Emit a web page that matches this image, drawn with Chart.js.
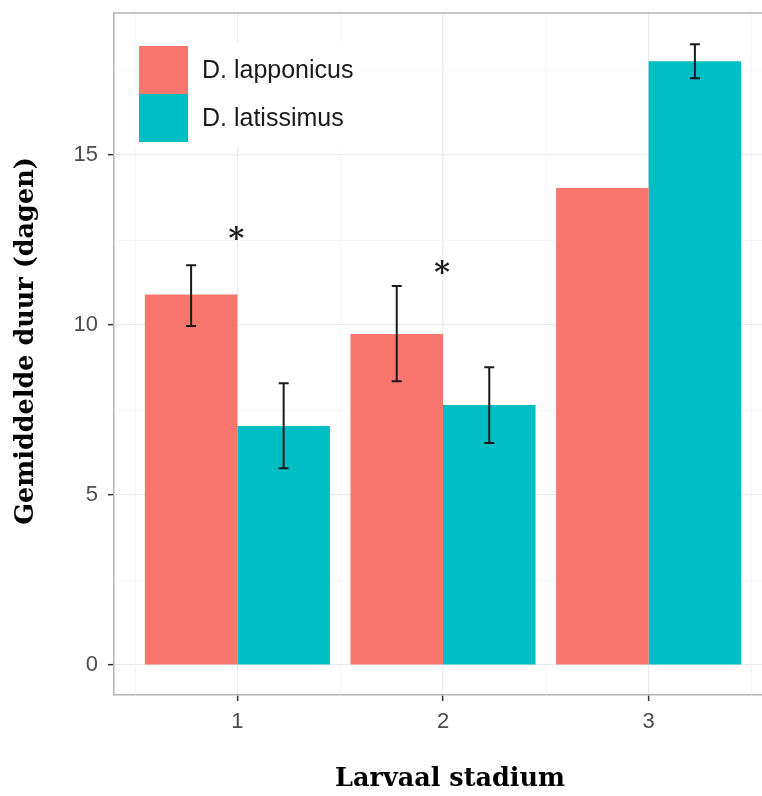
<!DOCTYPE html>
<html lang="nl">
<head>
  <meta charset="UTF-8">
  <title>Gemiddelde duur per larvaal stadium</title>
  <script src="https://cdn.jsdelivr.net/npm/chart.js"></script>
  <style>
    html, body {
      margin: 0;
      padding: 0;
      background: #fff;
      overflow: hidden;
    }
    #wrap {
      width: 790px;
      height: 796px;
    }
  </style>
</head>
<body>
  <div id="wrap"><canvas id="chart" width="790" height="796"></canvas></div>

  <script>
    // data
    const stages = [1, 2, 3];
    const seriesNames = ['D. lapponicus', 'D. latissimus'];
    const lapponicus = [10.9, 9.74, 14.03];
    const lapponicusLow = [9.97, 8.35, null];
    const lapponicusHigh = [11.76, 11.15, null];
    const latissimus = [7.03, 7.65, 17.76];
    const latissimusLow = [5.79, 6.53, 17.26];
    const latissimusHigh = [8.29, 8.76, 18.26];
    const starStages = [1, 2];
    const starValues = [12.7, 11.7];
    const xTicks = [1, 2, 3];
    const xMinor = [0.5, 1.5, 2.5, 3.5];
    const yTicks = [0, 5, 10, 15];
    const yMinor = [2.5, 7.5, 12.5, 17.5];

    const colors = ['#F8766D', '#00BFC4'];
    const lows = [lapponicusLow, latissimusLow];
    const highs = [lapponicusHigh, latissimusHigh];

    const toPoints = vals => stages.map((s, i) => ({ x: s, y: vals[i] }));

    const extras = {
      id: 'extras',
      beforeDraw(chart) {
        const ctx = chart.ctx;
        ctx.save();
        ctx.fillStyle = '#fff';
        ctx.fillRect(0, 0, chart.width, chart.height);
        ctx.restore();
      },
      beforeDatasetsDraw(chart) {
        // minor grid lines
        const ctx = chart.ctx;
        const xs = chart.scales.x, ys = chart.scales.y;
        const a = chart.chartArea;
        ctx.save();
        ctx.strokeStyle = '#f4f4f4';
        ctx.lineWidth = 0.8;
        ctx.beginPath();
        xMinor.forEach(v => {
          const px = Math.round(xs.getPixelForValue(v)) + 0.5;
          ctx.moveTo(px, a.top); ctx.lineTo(px, a.bottom);
        });
        yMinor.forEach(v => {
          const py = Math.round(ys.getPixelForValue(v)) + 0.5;
          ctx.moveTo(a.left, py); ctx.lineTo(a.right, py);
        });
        ctx.stroke();
        ctx.restore();
      },
      afterDatasetsDraw(chart) {
        const ctx = chart.ctx;
        const xs = chart.scales.x, ys = chart.scales.y;
        const area = chart.chartArea;
        ctx.save();

        // error bars
        ctx.strokeStyle = '#1a1a1a';
        ctx.lineWidth = 2;
        chart.data.datasets.forEach((ds, di) => {
          const meta = chart.getDatasetMeta(di);
          meta.data.forEach((bar, i) => {
            if (lows[di][i] == null) return;
            const y1 = ys.getPixelForValue(highs[di][i]);
            const y2 = ys.getPixelForValue(lows[di][i]);
            ctx.beginPath();
            ctx.moveTo(bar.x, y1); ctx.lineTo(bar.x, y2);
            ctx.moveTo(bar.x - 5, y1); ctx.lineTo(bar.x + 5, y1);
            ctx.moveTo(bar.x - 5, y2); ctx.lineTo(bar.x + 5, y2);
            ctx.stroke();
          });
        });

        // significance stars
        ctx.fillStyle = '#1a1a1a';
        ctx.font = 'bold 30px "DejaVu Serif"';
        ctx.textAlign = 'center';
        ctx.textBaseline = 'alphabetic';
        const m = ctx.measureText('*');
        const shift = (m.actualBoundingBoxAscent - m.actualBoundingBoxDescent) / 2;
        starStages.forEach((s, i) => {
          ctx.fillText('*', xs.getPixelForValue(s) - 1, ys.getPixelForValue(starValues[i]) + shift);
        });

        // legend inside the panel
        ctx.fillStyle = '#fff';
        ctx.fillRect(134, 43, 222, 104);
        seriesNames.forEach((name, i) => {
          ctx.fillStyle = colors[i];
          ctx.fillRect(139, 46 + i * 48, 49, 48);
          ctx.fillStyle = '#1a1a1a';
          ctx.font = '25px "Liberation Sans", Arial, sans-serif';
          ctx.textAlign = 'left';
          ctx.textBaseline = 'middle';
          ctx.fillText(name, 202, 71 + i * 48);
        });

        // top border of the panel
        ctx.strokeStyle = '#b3b3b3';
        ctx.lineWidth = 1.5;
        ctx.beginPath();
        ctx.moveTo(area.left, area.top);
        ctx.lineTo(area.right, area.top);
        ctx.stroke();

        // axis titles
        ctx.fillStyle = '#000';
        ctx.font = 'bold 25.5px "DejaVu Serif"';
        ctx.textAlign = 'center';
        ctx.textBaseline = 'middle';
        ctx.fillText('Larvaal stadium', 450, 779);
        ctx.translate(26, 341);
        ctx.rotate(-Math.PI / 2);
        ctx.fillText('Gemiddelde duur (dagen)', 0, 0);
        ctx.restore();
      }
    };

    new Chart(document.getElementById('chart'), {
      type: 'bar',
      data: {
        datasets: [
          { label: seriesNames[0], data: toPoints(lapponicus), backgroundColor: colors[0] },
          { label: seriesNames[1], data: toPoints(latissimus), backgroundColor: colors[1] }
        ]
      },
      options: {
        responsive: false,
        animation: false,
        categoryPercentage: 0.9,
        barPercentage: 1.0,
        layout: { padding: { top: 13, right: 18, left: 0, bottom: 0 } },
        plugins: {
          legend: { display: false },
          tooltip: { enabled: false }
        },
        scales: {
          x: {
            type: 'linear',
            min: 0.4,
            max: 3.6,
            offset: false,
            afterBuildTicks: s => { s.ticks = xTicks.map(v => ({ value: v })); },
            afterFit: s => { s.height = 101; s.paddingLeft = 0; s.paddingRight = 0; },
            ticks: {
              autoSkip: false,
              maxRotation: 0,
              padding: 8,
              color: '#4d4d4d',
              font: { family: '"Liberation Sans", Arial, sans-serif', size: 22 },
              callback: v => String(v)
            },
            grid: {
              offset: false,
              color: '#ebebeb',
              lineWidth: 1.3,
              tickColor: '#333',
              tickLength: 6,
              tickWidth: 1.5
            },
            border: { color: '#b3b3b3', width: 1.5 }
          },
          y: {
            min: -0.88,
            max: 19.18,
            afterBuildTicks: s => { s.ticks = yTicks.map(v => ({ value: v })); },
            afterFit: s => { s.width = 114; s.paddingTop = 0; s.paddingBottom = 0; },
            ticks: {
              autoSkip: false,
              padding: 10,
              color: '#4d4d4d',
              font: { family: '"Liberation Sans", Arial, sans-serif', size: 22 },
              callback: v => String(v)
            },
            grid: {
              color: '#ebebeb',
              lineWidth: 1.3,
              tickColor: '#333',
              tickLength: 6,
              tickWidth: 1.5
            },
            border: { color: '#b3b3b3', width: 1.5 }
          }
        }
      },
      plugins: [extras]
    });
  </script>
</body>
</html>
